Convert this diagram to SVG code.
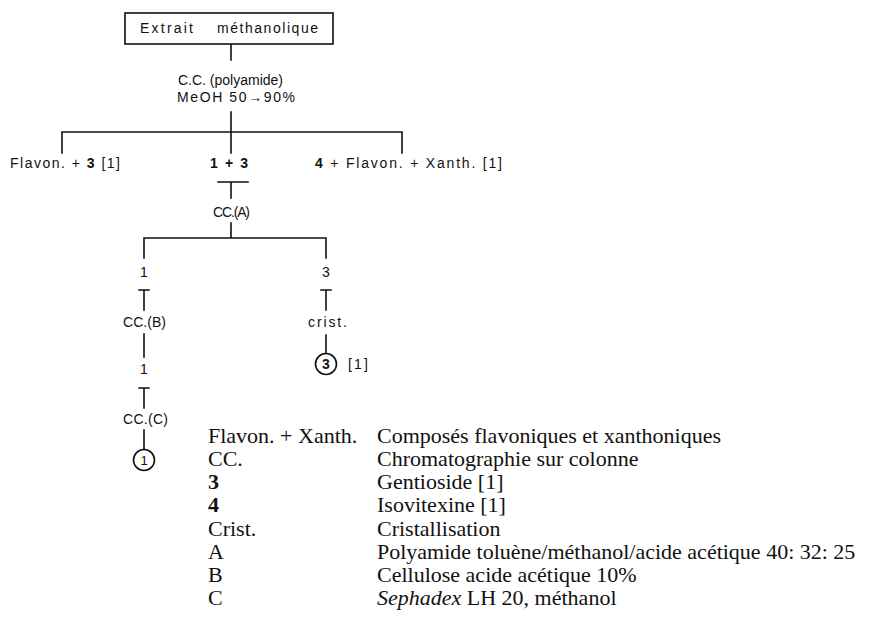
<svg xmlns="http://www.w3.org/2000/svg" width="872" height="624" viewBox="0 0 872 624">
<style>
.s{font-family:"Liberation Sans",Arial,sans-serif;font-size:14px;fill:#111}
.c{text-anchor:middle}
.b{font-weight:bold}
.r{font-family:"Liberation Serif","Times New Roman",serif;font-size:22px;fill:#111}
.ln{stroke:#111;stroke-width:1.6;fill:none;stroke-linecap:square}
.circ{stroke:#111;stroke-width:1.6;fill:#fff}
</style>
<rect width="872" height="624" fill="#fff"/>
<g id="connectors" class="ln">
<path d="M231 44V60"/>
<path d="M231 112V153M62 153V132H402V153"/>
<path d="M218 182H248M231 182V198"/>
<path d="M231 223V238M144 258V238H326V258"/>
<path d="M139 290H149M144 290V310"/>
<path d="M321 290H331M326 290V310"/>
<path d="M144 334V357"/>
<path d="M326 335V353"/>
<path d="M139 388H149M144 388V408"/>
<path d="M144 430V449"/>
</g>
<g id="n_extrait">
<rect x="125" y="13" width="208" height="31" fill="#fff" stroke="#111" stroke-width="1.6"/>
<text class="s" x="140" y="33" textLength="53" lengthAdjust="spacing">Extrait</text>
<text class="s" x="217" y="33" textLength="101" lengthAdjust="spacing">méthanolique</text>
</g>
<g id="n_cc_polyamide">
<text class="s" x="178" y="85" textLength="105" lengthAdjust="spacing">C.C. (polyamide)</text>
<text class="s" x="177" y="102" textLength="118" lengthAdjust="spacing">MeOH 50→90%</text>
</g>
<g id="n_flavon3">
<text class="s" x="10" y="168" textLength="110" lengthAdjust="spacing">Flavon. + <tspan class="b">3</tspan> [1]</text>
</g>
<g id="n_1plus3">
<text class="s b" x="210" y="168" textLength="38" lengthAdjust="spacing">1 + 3</text>
</g>
<g id="n_4flavon">
<text class="s" x="315" y="168" textLength="187" lengthAdjust="spacing"><tspan class="b">4</tspan> + Flavon. + Xanth. [1]</text>
</g>
<g id="n_ccA">
<text class="s" x="213" y="217" textLength="37" lengthAdjust="spacing">CC.(A)</text>
</g>
<g id="n_1a">
<text class="s c" x="144" y="277">1</text>
</g>
<g id="n_3a">
<text class="s c" x="326" y="277">3</text>
</g>
<g id="n_ccB">
<text class="s" x="123" y="327" textLength="43" lengthAdjust="spacing">CC.(B)</text>
</g>
<g id="n_crist">
<text class="s" x="308" y="327" textLength="39" lengthAdjust="spacing">crist.</text>
</g>
<g id="n_3final">
<circle class="circ" cx="326" cy="364" r="10.5"/>
<text class="s b c" x="326" y="369">3</text>
<text class="s" x="348" y="369" textLength="20" lengthAdjust="spacing">[1]</text>
</g>
<g id="n_1b">
<text class="s c" x="144" y="374">1</text>
</g>
<g id="n_ccC">
<text class="s" x="123" y="424" textLength="45" lengthAdjust="spacing">CC.(C)</text>
</g>
<g id="n_1final">
<circle class="circ" cx="144" cy="460" r="10.5"/>
<text class="s c" x="144" y="465" style="font-size:13px">1</text>
</g>
<g id="legend">
<text class="r" x="208" y="443">Flavon. + Xanth.</text>
<text class="r" x="377" y="443">Composés flavoniques et xanthoniques</text>
<text class="r" x="208" y="466">CC.</text>
<text class="r" x="377" y="466">Chromatographie sur colonne</text>
<text class="r b" x="208" y="489">3</text>
<text class="r" x="377" y="489">Gentioside [1]</text>
<text class="r b" x="208" y="512">4</text>
<text class="r" x="377" y="512">Isovitexine [1]</text>
<text class="r" x="208" y="536">Crist.</text>
<text class="r" x="377" y="536">Cristallisation</text>
<text class="r" x="208" y="559">A</text>
<text class="r" x="377" y="559">Polyamide toluène/méthanol/acide acétique 40: 32: 25</text>
<text class="r" x="208" y="582">B</text>
<text class="r" x="377" y="582">Cellulose acide acétique 10%</text>
<text class="r" x="208" y="605">C</text>
<text class="r" x="377" y="605"><tspan font-style="italic">Sephadex</tspan> LH 20, méthanol</text>
</g>
</svg>
